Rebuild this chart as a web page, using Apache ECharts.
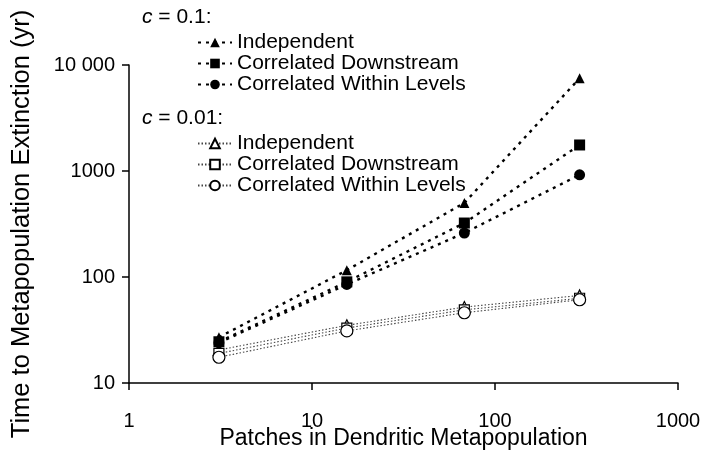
<!DOCTYPE html>
<html>
<head>
<meta charset="utf-8">
<script src="https://cdn.jsdelivr.net/npm/echarts@6/dist/echarts.min.js"></script>
<style>
  html, body { margin: 0; padding: 0; background: #fff; }
  #chart { width: 714px; height: 453px; }
</style>
</head>
<body>
<div id="chart"></div>
<script>
// patches per metapopulation (x)
const patches = [3.1, 15.5, 68, 290];

// c = 0.1
const indepHigh = [27, 116, 500, 7500];
const downHigh = [24.5, 90, 323, 1760];
const withinHigh = [24, 85, 260, 920];

// c = 0.01
const indepLow = [20.5, 35, 52, 67];
const downLow = [19, 33, 49, 63];
const withinLow = [17.5, 31, 46, 61];

const xTicks = [1, 10, 100, 1000];
const yTicks = [10, 100, 1000, 10000];

const labels = {
  h_ind: 'Independent',
  h_down: 'Correlated Downstream',
  h_within: 'Correlated Within Levels',
  l_ind: 'Independent',
  l_down: 'Correlated Downstream',
  l_within: 'Correlated Within Levels'
};

const FONT = 'Liberation Sans, Arial, sans-serif';

const pairs = (ys) => patches.map((x, i) => [x, ys[i]]);

const highLine = { color: '#000', width: 2.4, type: [3, 5] };
const lowLine = { color: '#444', width: 1.1, type: [1.5, 2] };

const makeSeries = (name, ys, symbol, size, filled) => ({
  name,
  type: 'line',
  data: pairs(ys),
  symbol,
  symbolSize: size,
  lineStyle: filled ? highLine : lowLine,
  itemStyle: filled
    ? { color: '#000', borderWidth: 0 }
    : { color: '#fff', borderColor: '#000', borderWidth: 1.2 },
  emphasis: { disabled: true },
  animation: false,
  z: filled ? 3 : 2
});

const legendBase = {
  orient: 'vertical',
  left: 192,
  itemWidth: 34,
  itemHeight: 12,
  itemGap: 0,
  selectedMode: false,
  formatter: (n) => labels[n],
  textStyle: { fontFamily: FONT, fontSize: 21, color: '#000', lineHeight: 21 }
};

// plain tick text, no thousands comma; 10000 written as "10 000"
const tickText = (v) => (v >= 10000 ? String(v).replace(/(\d)(?=(\d{3})+$)/g, '$1 ') : String(v));

const chart = echarts.init(document.getElementById('chart'));
chart.setOption({
  backgroundColor: '#fff',
  animation: false,
  grid: { left: 129, right: 36, top: 65, bottom: 70, containLabel: false, outerBoundsMode: 'none' },
  legend: [
    Object.assign({}, legendBase, { top: 27, data: ['h_ind', 'h_down', 'h_within'] }),
    Object.assign({}, legendBase, { top: 128, data: ['l_ind', 'l_down', 'l_within'] })
  ],
  graphic: [
    {
      type: 'text', left: 142, top: 7,
      style: {
        text: '{i|c} = 0.1:',
        fontFamily: FONT, fontSize: 21, fill: '#000',
        rich: { i: { fontStyle: 'italic', fontFamily: FONT, fontSize: 21 } }
      }
    },
    {
      type: 'text', left: 142, top: 108,
      style: {
        text: '{i|c} = 0.01:',
        fontFamily: FONT, fontSize: 21, fill: '#000',
        rich: { i: { fontStyle: 'italic', fontFamily: FONT, fontSize: 21 } }
      }
    }
  ],
  xAxis: {
    type: 'log',
    logBase: 10,
    min: xTicks[0],
    max: xTicks[xTicks.length - 1],
    name: 'Patches in Dendritic Metapopulation',
    nameLocation: 'middle',
    nameGap: 44,
    nameMoveOverlap: false,
    nameTextStyle: { fontFamily: FONT, fontSize: 23, color: '#000' },
    axisLine: { lineStyle: { color: '#000', width: 1.5 } },
    axisTick: { length: 7, lineStyle: { color: '#000', width: 1.5 } },
    minorTick: { show: false },
    splitLine: { show: false },
    axisLabel: { margin: 28, fontFamily: FONT, fontSize: 20, color: '#000', formatter: tickText }
  },
  yAxis: {
    type: 'log',
    logBase: 10,
    min: yTicks[0],
    max: yTicks[yTicks.length - 1],
    name: 'Time to Metapopulation Extinction (yr)',
    nameLocation: 'middle',
    nameGap: 94,
    nameMoveOverlap: false,
    nameTextStyle: { fontFamily: FONT, fontSize: 25.5, color: '#000' },
    axisLine: { lineStyle: { color: '#000', width: 1.5 } },
    axisTick: { length: 7, lineStyle: { color: '#000', width: 1.5 } },
    minorTick: { show: false },
    splitLine: { show: false },
    axisLabel: { margin: 14, fontFamily: FONT, fontSize: 20, color: '#000', formatter: tickText }
  },
  series: [
    makeSeries('h_ind', indepHigh, 'triangle', 10, true),
    makeSeries('h_down', downHigh, 'rect', 11, true),
    makeSeries('h_within', withinHigh, 'circle', 11, true),
    makeSeries('l_ind', indepLow, 'triangle', 11, false),
    makeSeries('l_down', downLow, 'rect', 10, false),
    makeSeries('l_within', withinLow, 'circle', 12, false)
  ]
});
</script>
</body>
</html>
